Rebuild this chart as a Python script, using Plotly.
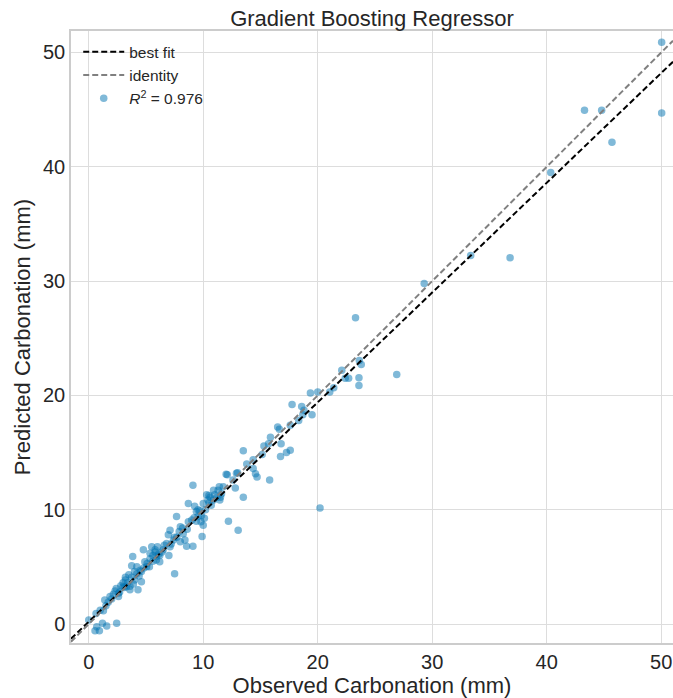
import numpy as np
import plotly.graph_objects as go

# Observed vs predicted carbonation depth (mm)
observed = [
    0.55, 0.93, 0.7, 1.2, 1.57, 2.44, 0.0, 0.64, 1.28, 1.5, 1.4, 1.86, 2.15, 2.6, 2.4, 2.8,
    3.0, 3.2, 3.3, 3.6, 3.9, 4.3, 4.6, 4.0, 3.75, 4.2, 4.5, 3.75, 3.84, 4.77, 4.2, 4.6,
    5.06, 4.9, 5.35, 5.5, 5.8, 6.0, 6.2, 6.2, 5.9, 6.5, 6.8, 7.0, 7.1, 6.95, 7.4, 7.7,
    7.5, 7.67, 8.0, 8.0, 8.4, 8.55, 9.1, 8.25, 8.7, 9.0, 8.7, 9.1, 9.25, 9.55, 9.55, 9.8,
    10.0, 9.9, 9.4, 10.1, 9.85, 10.0, 10.3, 10.6, 10.9, 10.7, 10.4, 11.2, 11.3, 12.2, 13.05, 12.0,
    12.9, 12.6, 11.75, 11.45, 3.2, 3.5, 3.0, 2.7, 5.35, 5.6, 5.9, 7.1,
    10.5, 10.9, 11.4, 11.5, 12.1, 13.0, 12.8, 13.5, 13.5, 13.8, 14.36, 14.56, 14.7, 14.36,
    15.15, 15.3, 15.7, 15.87, 15.8, 16.5, 16.65, 16.75, 17.27, 17.6, 16.8, 17.76, 17.6, 18.34,
    18.6, 18.8, 18.7, 19.5, 19.36, 20.0, 21.05, 21.4, 22.1, 22.4, 22.7, 23.3, 23.63, 23.8,
    23.6, 23.6, 26.9, 20.2, 29.3, 33.36, 36.8, 40.35, 43.3, 44.8, 45.7, 50.04, 50.04,
    1.0, 1.7, 2.0, 2.3, 2.6, 3.1, 3.4, 3.6, 4.0, 4.4, 4.8, 5.1, 5.3, 5.6, 5.8, 6.1,
    6.4, 6.6, 7.2, 7.5, 7.9, 8.2, 8.6, 9.2, 9.4, 9.7, 10.2, 10.5, 11.0, 11.6,
]
predicted = [
    -0.58, -0.58, -0.23, 0.06, -0.17, 0.06, 0.35, 0.93, 1.17, 1.6, 2.1, 2.4, 2.6, 2.7, 3.1, 3.35,
    3.6, 3.85, 3.27, 3.0, 3.5, 3.0, 3.7, 3.85, 4.1, 4.4, 4.7, 5.1, 5.9, 6.5, 5.0, 4.6,
    5.0, 5.45, 5.7, 6.75, 6.5, 6.75, 6.0, 5.45, 5.9, 6.5, 7.05, 6.0, 8.2, 7.8, 7.35, 7.6,
    4.4, 9.4, 8.5, 7.2, 7.35, 6.8, 6.8, 7.9, 8.95, 9.1, 10.55, 12.15, 10.3, 10.0, 9.4, 8.95,
    8.65, 7.65, 9.85, 9.25, 9.5, 10.55, 11.3, 11.1, 10.85, 10.4, 10.85, 11.1, 11.7, 9.0, 8.2, 13.1,
    13.2, 12.6, 12.0, 10.85, 4.1, 4.3, 3.27, 2.8, 6.2, 6.0, 5.6, 6.75,
    11.25, 11.7, 12.0, 11.1, 13.06, 13.24, 11.9, 11.1, 15.16, 14.0, 14.37, 13.15, 12.86, 13.6,
    14.84, 15.57, 15.77, 16.35, 12.6, 17.23, 17.05, 14.66, 15.0, 15.2, 15.77, 19.2, 17.4, 17.8,
    19.04, 18.7, 18.3, 18.3, 20.2, 20.3, 20.3, 20.67, 22.2, 21.5, 21.5, 26.8, 23.06, 22.7,
    21.55, 20.87, 21.84, 10.15, 29.8, 32.25, 32.05, 39.5, 44.94, 44.94, 42.14, 50.9, 44.7,
    1.2, 1.9, 2.2, 2.9, 2.4, 3.2, 3.6, 3.3, 4.6, 4.2, 4.9, 5.3, 5.0, 5.5, 6.3, 6.1,
    6.3, 6.9, 7.0, 7.6, 8.1, 8.4, 8.3, 9.3, 9.0, 9.9, 10.0, 10.6, 11.3, 11.4,
]

r2_label = "<i>R</i><sup>2</sup>&nbsp;=&nbsp;0.976"
fit_slope = 0.96
fit_intercept = 0.2

x_range = [-1.55, 51.03]
y_range = [-1.66, 51.88]
ticks = [0, 10, 20, 30, 40, 50]

line_x = np.array(x_range)

fig = go.Figure()
fig.add_trace(go.Scatter(
    x=observed, y=predicted, mode="markers", name=r2_label,
    marker=dict(color="#0173b2", size=7.5, opacity=0.5, line=dict(width=0)),
    legendrank=3,
))
fig.add_trace(go.Scatter(
    x=line_x, y=fit_slope * line_x + fit_intercept, mode="lines", name="best fit",
    line=dict(color="black", width=2, dash="6px,3px"), legendrank=1,
))
fig.add_trace(go.Scatter(
    x=line_x, y=line_x, mode="lines", name="identity",
    line=dict(color="gray", width=2, dash="6px,3px"), legendrank=2,
))

font = "Liberation Sans, Arial, sans-serif"
axis_common = dict(
    showgrid=True, gridcolor="#dddddd", gridwidth=1,
    showline=True, linecolor="#cccccc", linewidth=1.5, mirror=True,
    zeroline=False, ticks="", tickvals=ticks,
    tickfont=dict(size=20, color="#262626", family=font),
    automargin=False,
)
fig.update_layout(
    width=673, height=698,
    margin=dict(l=71, r=0, t=31, b=55),
    paper_bgcolor="white", plot_bgcolor="white",
    title=dict(text="Gradient Boosting Regressor", x=0.5, xref="paper", xanchor="center",
               y=1 - 18 / 698, yanchor="middle",
               font=dict(size=22, color="#262626", family=font)),
    xaxis=dict(range=x_range,
               title=dict(text="Observed Carbonation (mm)", standoff=0,
                          font=dict(size=22, color="#262626", family=font)),
               **axis_common),
    yaxis=dict(range=y_range,
               title=dict(text="Predicted Carbonation (mm)", standoff=6,
                          font=dict(size=22, color="#262626", family=font)),
               **axis_common),
    legend=dict(x=0.012, y=0.993, xanchor="left", yanchor="top", itemwidth=41,
                bgcolor="rgba(0,0,0,0)", font=dict(size=15.5, color="#262626", family=font),
                tracegroupgap=0),
    showlegend=True,
)

fig.write_html("out.html")
